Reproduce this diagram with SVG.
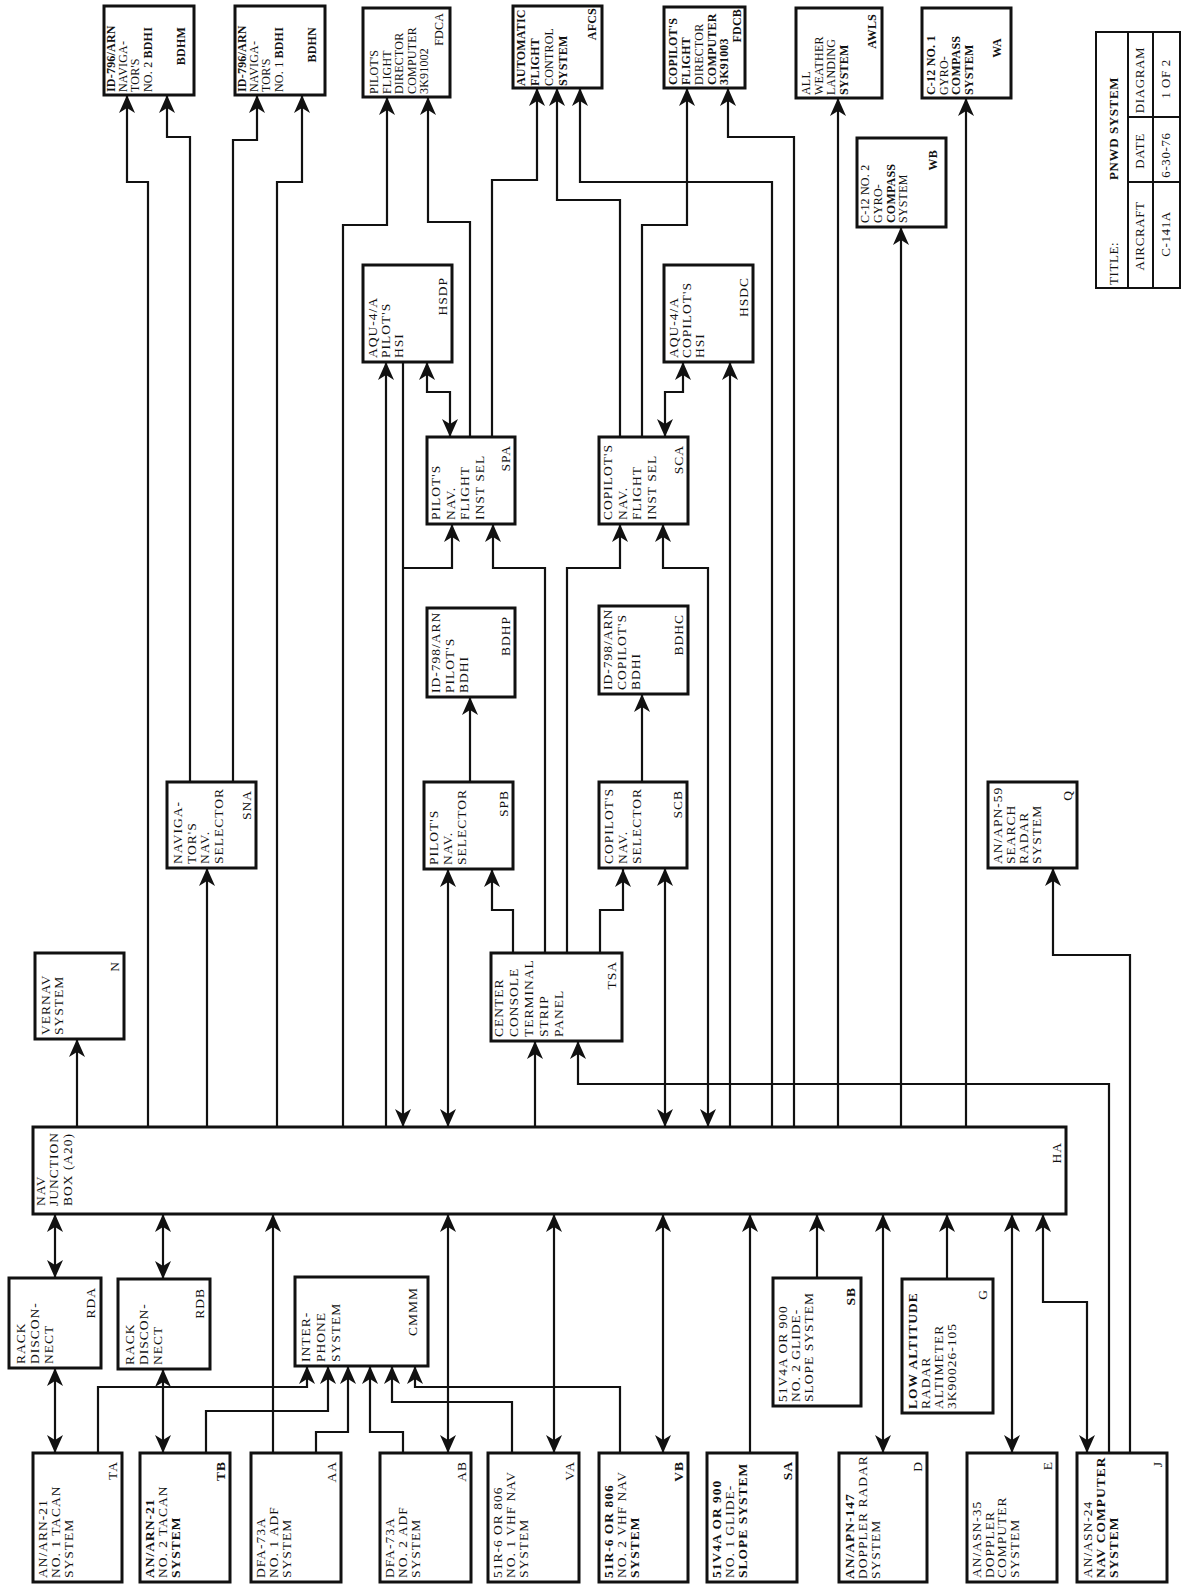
<svg xmlns="http://www.w3.org/2000/svg" width="1182" height="1589" viewBox="0 0 1182 1589">
<style>
text{font-family:"Liberation Serif","Times New Roman",serif;font-size:13.5px;fill:#111;letter-spacing:1px}
.n rect{fill:#fff;stroke:#111;stroke-width:3}
.s text{font-size:12px;letter-spacing:0.2px}
.t text{font-size:13px;letter-spacing:0.6px}
.b{font-weight:bold}
.lb{text-anchor:end}
.m{text-anchor:middle}
.c path{fill:none;stroke:#111;stroke-width:2.2}
.e{marker-end:url(#ah)}
.d{marker-start:url(#ah);marker-end:url(#ah)}
.t line,.t rect{stroke:#111;stroke-width:2;fill:none}
</style>
<defs>
<marker id="ah" viewBox="0 0 18 16" refX="18" refY="8" markerWidth="18" markerHeight="16" markerUnits="userSpaceOnUse" orient="auto-start-reverse"><path d="M0,0 L18,8 L0,16 L5,8 Z" fill="#111"/></marker>
</defs>
<rect width="1182" height="1589" fill="#fff"/>

<!-- bottom row -->
<g id="TA" class="n" transform="translate(33,1582) rotate(-90)"><rect width="129" height="89"/><text x="4" y="14">AN/ARN-21</text><text x="4" y="27">NO. 1 TACAN</text><text x="4" y="40">SYSTEM</text><text class="lb" x="121" y="84">TA</text></g>
<g id="TB" class="n" transform="translate(140,1582) rotate(-90)"><rect width="129" height="90"/><text class="b" x="4" y="14">AN/ARN-21</text><text x="4" y="27">NO. 2 TACAN</text><text class="b" x="4" y="40">SYSTEM</text><text class="lb b" x="121" y="85">TB</text></g>
<g id="AA" class="n" transform="translate(251,1582) rotate(-90)"><rect width="129" height="90"/><text x="4" y="14">DFA-73A</text><text x="4" y="27">NO. 1 ADF</text><text x="4" y="40">SYSTEM</text><text class="lb" x="121" y="85">AA</text></g>
<g id="AB" class="n" transform="translate(380,1582) rotate(-90)"><rect width="129" height="91"/><text x="4" y="14">DFA-73A</text><text x="4" y="27">NO. 2 ADF</text><text x="4" y="40">SYSTEM</text><text class="lb" x="121" y="86">AB</text></g>
<g id="VA" class="n" transform="translate(488,1582) rotate(-90)"><rect width="129" height="91"/><text x="4" y="14">51R-6 OR 806</text><text x="4" y="27">NO. 1 VHF NAV</text><text x="4" y="40">SYSTEM</text><text class="lb" x="121" y="86">VA</text></g>
<g id="VB" class="n" transform="translate(599,1582) rotate(-90)"><rect width="129" height="89"/><text class="b" x="4" y="14">51R-6 OR 806</text><text x="4" y="27">NO. 2 VHF NAV</text><text class="b" x="4" y="40">SYSTEM</text><text class="lb b" x="121" y="84">VB</text></g>
<g id="SA" class="n" transform="translate(707,1582) rotate(-90)"><rect width="129" height="90"/><text class="b" x="4" y="14">51V4A OR 900</text><text x="4" y="27">NO. 1 GLIDE-</text><text class="b" x="4" y="40">SLOPE SYSTEM</text><text class="lb b" x="121" y="85">SA</text></g>
<g id="D" class="n" transform="translate(839,1582) rotate(-90)"><rect width="129" height="88"/><text class="b" x="3" y="15">AN/APN-147</text><text x="3" y="28">DOPPLER RADAR</text><text x="3" y="41">SYSTEM</text><text class="lb" x="121" y="83">D</text></g>
<g id="E" class="n" transform="translate(967,1582) rotate(-90)"><rect width="129" height="90"/><text x="4" y="14">AN/ASN-35</text><text x="4" y="26.5">DOPPLER</text><text x="4" y="39">COMPUTER</text><text x="4" y="51.5">SYSTEM</text><text class="lb" x="121" y="85">E</text></g>
<g id="J" class="n" transform="translate(1077,1582) rotate(-90)"><rect width="129" height="90"/><text x="4" y="15">AN/ASN-24</text><text class="b" x="4" y="28">NAV COMPUTER</text><text class="b" x="4" y="41">SYSTEM</text><text class="lb" x="121" y="85">J</text></g>

<!-- second row below HA -->
<g id="RDA" class="n" transform="translate(9,1368) rotate(-90)"><rect width="90" height="92"/><text x="4" y="16">RACK</text><text x="4" y="30">DISCON-</text><text x="4" y="44">NECT</text><text class="lb" x="81" y="86">RDA</text></g>
<g id="RDB" class="n" transform="translate(118,1369) rotate(-90)"><rect width="90" height="92"/><text x="4" y="16">RACK</text><text x="4" y="30">DISCON-</text><text x="4" y="44">NECT</text><text class="lb" x="81" y="86">RDB</text></g>
<g id="CMMM" class="n" transform="translate(295,1366) rotate(-90)"><rect width="89" height="133"/><text x="4" y="15">INTER-</text><text x="4" y="30">PHONE</text><text x="4" y="45">SYSTEM</text><text class="lb" x="79" y="122">CMMM</text></g>
<g id="SB" class="n" transform="translate(773,1406) rotate(-90)"><rect width="128" height="88"/><text x="4" y="14">51V4A OR 900</text><text x="4" y="27">NO. 2 GLIDE-</text><text x="4" y="40">SLOPE SYSTEM</text><text class="lb b" x="119" y="82">SB</text></g>
<g id="G" class="n" transform="translate(902,1413) rotate(-90)"><rect width="134" height="91"/><text class="b" x="4" y="15">LOW ALTITUDE</text><text x="4" y="28">RADAR</text><text x="4" y="41">ALTIMETER</text><text x="4" y="54">3K90026-105</text><text class="lb" x="124" y="85">G</text></g>

<!-- junction box -->
<g id="HA" class="n" transform="translate(33,1214) rotate(-90)"><rect width="87" height="1033"/><text x="8" y="12">NAV</text><text x="8" y="25">JUNCTION</text><text x="8" y="39">BOX (A20)</text><text class="lb" x="72" y="1028">HA</text></g>

<!-- above HA -->
<g id="N" class="n" transform="translate(35,1039) rotate(-90)"><rect width="86" height="89"/><text x="4" y="15">VERNAV</text><text x="4" y="28">SYSTEM</text><text class="lb" x="78" y="84">N</text></g>
<g id="SNA" class="n" transform="translate(167,868) rotate(-90)"><rect width="86" height="89"/><text x="4" y="15">NAVIGA-</text><text x="4" y="28.5">TOR'S</text><text x="4" y="42">NAV.</text><text x="4" y="55.5">SELECTOR</text><text class="lb" x="78" y="84">SNA</text></g>
<g id="TSA" class="n" transform="translate(491,1041) rotate(-90)"><rect width="88" height="131"/><text x="4" y="12">CENTER</text><text x="4" y="27">CONSOLE</text><text x="4" y="42">TERMINAL</text><text x="4" y="57">STRIP</text><text x="4" y="72">PANEL</text><text class="lb" x="80" y="125">TSA</text></g>
<g id="SPB" class="n" transform="translate(424,869) rotate(-90)"><rect width="87" height="89"/><text x="4" y="14">PILOT'S</text><text x="4" y="28">NAV.</text><text x="4" y="42">SELECTOR</text><text class="lb" x="79" y="84">SPB</text></g>
<g id="SCB" class="n" transform="translate(599,868) rotate(-90)"><rect width="86" height="88"/><text x="4" y="14">COPILOT'S</text><text x="4" y="28">NAV.</text><text x="4" y="42">SELECTOR</text><text class="lb" x="78" y="83">SCB</text></g>
<g id="Q" class="n" transform="translate(988,868) rotate(-90)"><rect width="86" height="89"/><text x="4" y="14">AN/APN-59</text><text x="4" y="27">SEARCH</text><text x="4" y="40">RADAR</text><text x="4" y="53">SYSTEM</text><text class="lb" x="78" y="84">Q</text></g>
<g id="BDHP" class="n" transform="translate(427,697) rotate(-90)"><rect width="89" height="88"/><text x="4" y="13">ID-798/ARN</text><text x="4" y="27">PILOT'S</text><text x="4" y="41">BDHI</text><text class="lb" x="81" y="83">BDHP</text></g>
<g id="BDHC" class="n" transform="translate(599,694) rotate(-90)"><rect width="88" height="89"/><text x="4" y="13">ID-798/ARN</text><text x="4" y="27">COPILOT'S</text><text x="4" y="41">BDHI</text><text class="lb" x="80" y="84">BDHC</text></g>
<g id="SPA" class="n" transform="translate(427,524) rotate(-90)"><rect width="87" height="88"/><text x="4" y="13">PILOT'S</text><text x="4" y="27.5">NAV.</text><text x="4" y="42">FLIGHT</text><text x="4" y="56.5">INST SEL</text><text class="lb" x="79" y="83">SPA</text></g>
<g id="SCA" class="n" transform="translate(599,524) rotate(-90)"><rect width="87" height="89"/><text x="4" y="13">COPILOT'S</text><text x="4" y="27.5">NAV.</text><text x="4" y="42">FLIGHT</text><text x="4" y="56.5">INST SEL</text><text class="lb" x="79" y="84">SCA</text></g>
<g id="HSDP" class="n" transform="translate(363,362) rotate(-90)"><rect width="97" height="89"/><text x="4" y="14">AQU-4/A</text><text x="4" y="27">PILOT'S</text><text x="4" y="40">HSI</text><text class="lb" x="85" y="84">HSDP</text></g>
<g id="HSDC" class="n" transform="translate(664,362) rotate(-90)"><rect width="97" height="89"/><text x="4" y="14">AQU-4/A</text><text x="4" y="27">COPILOT'S</text><text x="4" y="40">HSI</text><text class="lb" x="85" y="84">HSDC</text></g>
<g id="WB" class="n s" transform="translate(857,227) rotate(-90)"><rect width="89" height="89"/><text x="4" y="12">C-12 NO. 2</text><text x="4" y="25">GYRO-</text><text class="b" x="4" y="37.5">COMPASS</text><text x="4" y="50">SYSTEM</text><text class="lb b" x="77" y="80">WB</text></g>

<!-- top row -->
<g id="BDHM" class="n s" transform="translate(104,95) rotate(-90)"><rect width="89" height="90"/><text class="b" x="3" y="11">ID-796/ARN</text><text x="3" y="23">NAVIGA-</text><text x="3" y="35">TOR'S</text><text x="3" y="48">NO. 2 <tspan class="b">BDHI</tspan></text><text class="lb b" x="68" y="81">BDHM</text></g>
<g id="BDHN" class="n s" transform="translate(235,95) rotate(-90)"><rect width="89" height="90"/><text class="b" x="3" y="11">ID-796/ARN</text><text x="3" y="23">NAVIGA-</text><text x="3" y="35">TOR'S</text><text x="3" y="48">NO. 1 <tspan class="b">BDHI</tspan></text><text class="lb b" x="68" y="81">BDHN</text></g>
<g id="FDCA" class="n s" transform="translate(363,97) rotate(-90)"><rect width="89" height="87"/><text x="3" y="15">PILOT'S</text><text x="3" y="27.5">FLIGHT</text><text x="3" y="40">DIRECTOR</text><text x="3" y="52.5">COMPUTER</text><text x="3" y="65">3K91002</text><text class="lb" x="84" y="80">FDCA</text></g>
<g id="AFCS" class="n s" transform="translate(513,88) rotate(-90)"><rect width="82" height="89"/><text class="b" x="2" y="12">AUTOMATIC</text><text class="b" x="2" y="26">FLIGHT</text><text x="2" y="40">CONTROL</text><text class="b" x="2" y="54">SYSTEM</text><text class="lb b" x="80" y="83">AFCS</text></g>
<g id="FDCB" class="n s" transform="translate(664,88) rotate(-90)"><rect width="81" height="81"/><text class="b" x="3" y="13">COPILOT'S</text><text class="b" x="3" y="26">FLIGHT</text><text x="3" y="39">DIRECTOR</text><text class="b" x="3" y="52">COMPUTER</text><text class="b" x="3" y="64">3K91003</text><text class="lb b" x="79" y="77">FDCB</text></g>
<g id="AWLS" class="n s" transform="translate(796,98) rotate(-90)"><rect width="90" height="86"/><text x="3" y="14">ALL</text><text x="3" y="26.5">WEATHER</text><text x="3" y="39">LANDING</text><text class="b" x="3" y="51.5">SYSTEM</text><text class="lb b" x="84" y="80">AWLS</text></g>
<g id="WA" class="n s" transform="translate(922,98) rotate(-90)"><rect width="90" height="89"/><text class="b" x="3" y="13">C-12 NO. 1</text><text x="3" y="25.5">GYRO-</text><text class="b" x="3" y="38">COMPASS</text><text class="b" x="3" y="50.5">SYSTEM</text><text class="lb b" x="60" y="79">WA</text></g>

<!-- title block -->
<g id="title" class="t">
<rect x="1096" y="32" width="84" height="256"/>
<line x1="1128" y1="32" x2="1128" y2="288"/>
<line x1="1153" y1="32" x2="1153" y2="288"/>
<line x1="1128" y1="117" x2="1180" y2="117"/>
<line x1="1128" y1="182" x2="1180" y2="182"/>
<text transform="translate(1118,285) rotate(-90)">TITLE:</text>
<text class="b" transform="translate(1118,180) rotate(-90)">PNWD SYSTEM</text>
<text class="m" transform="translate(1144,236) rotate(-90)">AIRCRAFT</text>
<text class="m" transform="translate(1144,151) rotate(-90)">DATE</text>
<text class="m" transform="translate(1144,80) rotate(-90)">DIAGRAM</text>
<text class="m" transform="translate(1170,234) rotate(-90)">C-141A</text>
<text class="m" transform="translate(1170,155) rotate(-90)">6-30-76</text>
<text class="m" transform="translate(1170,79) rotate(-90)">1 OF 2</text>
</g>

<g id="connectors" class="c">
<path class="d" d="M55,1214 V1278"/>
<path class="d" d="M55,1368 V1453"/>
<path class="d" d="M163,1214 V1279"/>
<path class="d" d="M163,1369 V1453"/>
<path class="e" d="M273,1453 V1214"/>
<path class="e" d="M98,1453 V1387 H307 V1366"/>
<path class="e" d="M206,1453 V1411 H328 V1366"/>
<path class="e" d="M316,1453 V1432 H348 V1366"/>
<path class="e" d="M403,1453 V1432 H370 V1366"/>
<path class="e" d="M512,1453 V1402 H392 V1366"/>
<path class="e" d="M620,1453 V1387 H415 V1366"/>
<path class="d" d="M448,1214 V1453"/>
<path class="d" d="M554,1214 V1453"/>
<path class="d" d="M663,1214 V1453"/>
<path class="e" d="M750,1453 V1214"/>
<path class="e" d="M817,1278 V1214"/>
<path class="d" d="M883,1214 V1453"/>
<path class="e" d="M947,1279 V1214"/>
<path class="d" d="M1012,1214 V1453"/>
<path class="d" d="M1043,1214 V1302 H1087 V1453"/>
<path class="e" d="M77,1127 V1039"/>
<path class="e" d="M148,1127 V182 H127 V95"/>
<path class="e" d="M190,782 V137 H167 V95"/>
<path class="e" d="M233,782 V140 H257 V95"/>
<path class="e" d="M277,1127 V182 H302 V95"/>
<path class="e" d="M207,1127 V868"/>
<path class="e" d="M343,1127 V225 H387 V97"/>
<path class="e" d="M386,1127 V362"/>
<path class="e" d="M403,362 V1127"/>
<path class="d" d="M427,362 V392 H450 V437"/>
<path class="e" d="M470,437 V222 H428 V97"/>
<path class="e" d="M492,437 V180 H537 V88"/>
<path class="e" d="M620,437 V200 H557 V88"/>
<path class="e" d="M642,437 V225 H687 V88"/>
<path class="d" d="M683,362 V392 H665 V437"/>
<path class="e" d="M730,1127 V362"/>
<path class="e" d="M772,1127 V182 H580 V88"/>
<path class="e" d="M794,1127 V137 H728 V88"/>
<path class="e" d="M838,1127 V98"/>
<path class="e" d="M901,1127 V227"/>
<path class="e" d="M966,1127 V98"/>
<path class="e" d="M470,782 V697"/>
<path class="e" d="M642,782 V694"/>
<path class="e" d="M403,568 H452 V524"/>
<path class="e" d="M545,953 V568 H493 V524"/>
<path class="e" d="M567,953 V568 H620 V524"/>
<path class="d" d="M663,524 V568 H708 V1127"/>
<path class="d" d="M448,869 V1127"/>
<path class="e" d="M513,953 V910 H492 V869"/>
<path class="e" d="M600,953 V910 H623 V869"/>
<path class="d" d="M665,868 V1127"/>
<path class="e" d="M535,1127 V1041"/>
<path class="e" d="M1109,1453 V1084 H578 V1041"/>
<path class="e" d="M1130,1453 V955 H1053 V868"/>
</g>
</svg>
